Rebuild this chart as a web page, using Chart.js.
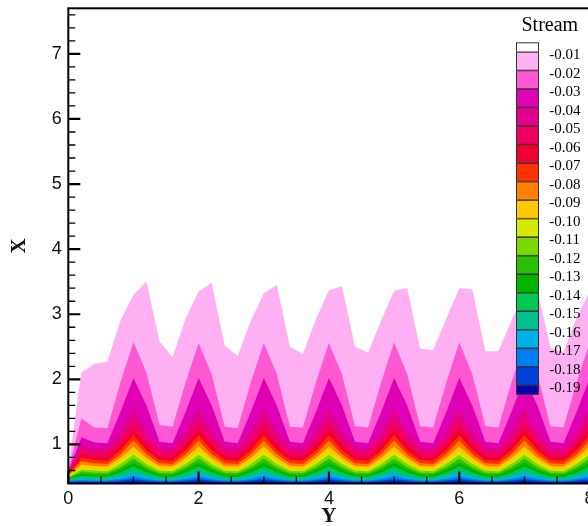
<!DOCTYPE html>
<html><head><meta charset="utf-8">
<script src="https://cdn.jsdelivr.net/npm/chart.js@4.4.1/dist/chart.umd.min.js"></script>
<style>html,body{margin:0;padding:0;background:#fff;overflow:hidden;width:588px;height:526px}canvas{display:block}</style>
</head><body>
<canvas id="c" width="610" height="526"></canvas>
<script>
// Y (horizontal axis) sample positions
const xs = [0,0.2,0.4,0.6,0.8,1,1.2,1.4,1.6,1.8,2,2.2,2.4,2.6,2.8,3,3.2,3.4,3.6,3.8,4,4.2,4.4,4.6,4.8,5,5.2,5.4,5.6,5.8,6,6.2,6.4,6.6,6.8,7,7.2,7.4,7.6,7.8,8];
const levels = ['-0.01','-0.02','-0.03','-0.04','-0.05','-0.06','-0.07','-0.08','-0.09','-0.10','-0.11','-0.12','-0.13','-0.14','-0.15','-0.16','-0.17','-0.18','-0.19'];
// contour heights (X) of each stream level
const c01 = [0.63,2.1,2.24,2.27,2.9, 3.3,3.5,2.58,2.34,2.93, 3.35,3.48,2.52,2.36,2.9, 3.32,3.45,2.5,2.39,2.92, 3.37,3.43,2.5,2.41,2.9, 3.36,3.4,2.47,2.45,2.93, 3.4,3.38,2.43,2.43,2.9, 3.33,3.36,2.48,2.42,2.95, 3.35];
const c02 = [0.61,1.4,1.26,1.25,1.95, 2.57,2.1,1.3,1.27,1.95, 2.56,2.08,1.27,1.25,1.95, 2.56,2.08,1.27,1.26,1.95, 2.56,2.08,1.28,1.26,1.95, 2.57,2.08,1.28,1.26,1.95, 2.57,2.08,1.28,1.26,1.95, 2.56,2.08,1.28,1.26,1.95, 2.56];
const c03 = [0.59,1.11,1.03,1.02,1.5, 2.02,1.6,1.04,1.02,1.5, 2.02,1.6,1.04,1.02,1.5, 2.02,1.6,1.04,1.02,1.5, 2.02,1.6,1.04,1.02,1.5, 2.02,1.6,1.04,1.02,1.5, 2.02,1.6,1.04,1.02,1.5, 2.02,1.6,1.04,1.02,1.5, 2.02];
const c04 = [0.57,1.0,0.96,0.95,1.21, 1.56,1.21,0.97,0.95,1.21, 1.56,1.21,0.97,0.95,1.21, 1.56,1.21,0.97,0.95,1.21, 1.56,1.21,0.97,0.95,1.21, 1.56,1.21,0.97,0.95,1.21, 1.56,1.21,0.97,0.95,1.21, 1.56,1.21,0.97,0.95,1.21, 1.56];
const c05 = [0.56,0.92,0.89,0.88,1.09, 1.38,1.09,0.9,0.88,1.09, 1.38,1.09,0.9,0.88,1.09, 1.38,1.09,0.9,0.88,1.09, 1.38,1.09,0.9,0.88,1.09, 1.38,1.09,0.9,0.88,1.09, 1.38,1.09,0.9,0.88,1.09, 1.38,1.09,0.9,0.88,1.09, 1.38];
const c06 = [0.55,0.85,0.82,0.81,1.0, 1.25,1.0,0.82,0.81,1.0, 1.25,1.0,0.82,0.81,1.0, 1.25,1.0,0.82,0.81,1.0, 1.25,1.0,0.82,0.81,1.0, 1.25,1.0,0.82,0.81,1.0, 1.25,1.0,0.82,0.81,1.0, 1.25,1.0,0.82,0.81,1.0, 1.25];
const c07 = [0.54,0.79,0.76,0.75,0.91, 1.14,0.91,0.76,0.75,0.91, 1.14,0.91,0.76,0.75,0.91, 1.14,0.91,0.76,0.75,0.91, 1.14,0.91,0.76,0.75,0.91, 1.14,0.91,0.76,0.75,0.91, 1.14,0.91,0.76,0.75,0.91, 1.14,0.91,0.76,0.75,0.91, 1.14];
const c08 = [0.53,0.74,0.71,0.7,0.85, 1.06,0.85,0.71,0.7,0.85, 1.06,0.85,0.71,0.7,0.85, 1.06,0.85,0.71,0.7,0.85, 1.06,0.85,0.71,0.7,0.85, 1.06,0.85,0.71,0.7,0.85, 1.06,0.85,0.71,0.7,0.85, 1.06,0.85,0.71,0.7,0.85, 1.06];
const c09 = [0.52,0.69,0.67,0.66,0.79, 0.97,0.79,0.67,0.66,0.79, 0.97,0.79,0.67,0.66,0.79, 0.97,0.79,0.67,0.66,0.79, 0.97,0.79,0.67,0.66,0.79, 0.97,0.79,0.67,0.66,0.79, 0.97,0.79,0.67,0.66,0.79, 0.97,0.79,0.67,0.66,0.79, 0.97];
const c10 = [0.51,0.65,0.63,0.62,0.74, 0.9,0.74,0.63,0.62,0.74, 0.9,0.74,0.63,0.62,0.74, 0.9,0.74,0.63,0.62,0.74, 0.9,0.74,0.63,0.62,0.74, 0.9,0.74,0.63,0.62,0.74, 0.9,0.74,0.63,0.62,0.74, 0.9,0.74,0.63,0.62,0.74, 0.9];
const c11 = [0.5,0.61,0.6,0.59,0.7, 0.84,0.7,0.6,0.59,0.7, 0.84,0.7,0.6,0.59,0.7, 0.84,0.7,0.6,0.59,0.7, 0.84,0.7,0.6,0.59,0.7, 0.84,0.7,0.6,0.59,0.7, 0.84,0.7,0.6,0.59,0.7, 0.84,0.7,0.6,0.59,0.7, 0.84];
const c12 = [0.49,0.58,0.565,0.56,0.65, 0.78,0.65,0.565,0.56,0.65, 0.78,0.65,0.565,0.56,0.65, 0.78,0.65,0.565,0.56,0.65, 0.78,0.65,0.565,0.56,0.65, 0.78,0.65,0.565,0.56,0.65, 0.78,0.65,0.565,0.56,0.65, 0.78,0.65,0.565,0.56,0.65, 0.78];
const c13 = [0.48,0.55,0.535,0.53,0.61, 0.72,0.61,0.535,0.53,0.61, 0.72,0.61,0.535,0.53,0.61, 0.72,0.61,0.535,0.53,0.61, 0.72,0.61,0.535,0.53,0.61, 0.72,0.61,0.535,0.53,0.61, 0.72,0.61,0.535,0.53,0.61, 0.72,0.61,0.535,0.53,0.61, 0.72];
const c14 = [0.47,0.52,0.51,0.505,0.57, 0.66,0.57,0.51,0.505,0.57, 0.66,0.57,0.51,0.505,0.57, 0.66,0.57,0.51,0.505,0.57, 0.66,0.57,0.51,0.505,0.57, 0.66,0.57,0.51,0.505,0.57, 0.66,0.57,0.51,0.505,0.57, 0.66,0.57,0.51,0.505,0.57, 0.66];
const c15 = [0.46,0.495,0.485,0.48,0.535, 0.61,0.535,0.485,0.48,0.535, 0.61,0.535,0.485,0.48,0.535, 0.61,0.535,0.485,0.48,0.535, 0.61,0.535,0.485,0.48,0.535, 0.61,0.535,0.485,0.48,0.535, 0.61,0.535,0.485,0.48,0.535, 0.61,0.535,0.485,0.48,0.535, 0.61];
const c16 = [0.45,0.47,0.463,0.46,0.5, 0.56,0.5,0.463,0.46,0.5, 0.56,0.5,0.463,0.46,0.5, 0.56,0.5,0.463,0.46,0.5, 0.56,0.5,0.463,0.46,0.5, 0.56,0.5,0.463,0.46,0.5, 0.56,0.5,0.463,0.46,0.5, 0.56,0.5,0.463,0.46,0.5, 0.56];
const c17 = [0.44,0.455,0.447,0.445,0.47, 0.51,0.47,0.447,0.445,0.47, 0.51,0.47,0.447,0.445,0.47, 0.51,0.47,0.447,0.445,0.47, 0.51,0.47,0.447,0.445,0.47, 0.51,0.47,0.447,0.445,0.47, 0.51,0.47,0.447,0.445,0.47, 0.51,0.47,0.447,0.445,0.47, 0.51];
const c18 = [0.43,0.435,0.431,0.43,0.447, 0.47,0.447,0.431,0.43,0.447, 0.47,0.447,0.431,0.43,0.447, 0.47,0.447,0.431,0.43,0.447, 0.47,0.447,0.431,0.43,0.447, 0.47,0.447,0.431,0.43,0.447, 0.47,0.447,0.431,0.43,0.447, 0.47,0.447,0.431,0.43,0.447, 0.47];
const c19 = [0.41,0.418,0.416,0.415,0.424, 0.435,0.424,0.416,0.415,0.424, 0.435,0.424,0.416,0.415,0.424, 0.435,0.424,0.416,0.415,0.424, 0.435,0.424,0.416,0.415,0.424, 0.435,0.424,0.416,0.415,0.424, 0.435,0.424,0.416,0.415,0.424, 0.435,0.424,0.416,0.415,0.424, 0.435];
const contours = [c01,c02,c03,c04,c05,c06,c07,c08,c09,c10,c11,c12,c13,c14,c15,c16,c17,c18,c19];
// band colour below each level
const bandColors = ['#FFB0F2','#FF58D2','#E000B4','#E2008C','#F00062','#F00030','#FF3000','#FF8000','#FFC800','#D8E800','#78D800','#28C000','#00B400','#00C850','#00C090','#00B0E8','#0080F0','#0040D8','#0000B0'];
const yTicks = [1,2,3,4,5,6,7];
const xTicks = [0,2,4,6,8];
const legendTitle = 'Stream';

const datasets = contours.map((c, i) => ({
  label: levels[i],
  data: c.map((v, j) => ({x: xs[j], y: v})),
  backgroundColor: bandColors[i],
  borderColor: 'rgba(0,0,0,0)',
  borderWidth: 0,
  pointRadius: 0,
  tension: 0,
  fill: 'start',
  order: contours.length - i
}));

const framePlugin = {
  id: 'frame',
  afterDatasetsDraw(chart) {
    const {ctx, chartArea: a, scales} = chart;
    const xS = scales.x, yS = scales.y;
    ctx.save();
    ctx.strokeStyle = '#000';
    ctx.lineCap = 'butt';
    ctx.lineWidth = 1.3;
    ctx.beginPath();
    for (let k = 3; k <= 38; k++) {
      const v = k / 5;
      if (Math.abs(v - Math.round(v)) < 1e-6) continue;
      const p = yS.getPixelForValue(v);
      ctx.moveTo(a.left, p); ctx.lineTo(a.left + 7, p);
    }
    for (let k = 1; k <= 16; k++) {
      if (k % 4 === 0) continue;
      const p = xS.getPixelForValue(k / 2);
      ctx.moveTo(p, a.bottom); ctx.lineTo(p, a.bottom - 7);
    }
    ctx.stroke();
    ctx.lineWidth = 2.2;
    ctx.beginPath();
    yTicks.forEach(v => { const p = yS.getPixelForValue(v); ctx.moveTo(a.left, p); ctx.lineTo(a.left + 12, p); });
    xTicks.forEach(v => { const p = xS.getPixelForValue(v); ctx.moveTo(p, a.bottom); ctx.lineTo(p, a.bottom - 12); });
    ctx.stroke();
    ctx.lineWidth = 2;
    ctx.strokeRect(a.left, a.top, a.right - a.left, a.bottom - a.top);
    ctx.restore();
  },
  afterDraw(chart) {
    const ctx = chart.ctx;
    ctx.save();
    const bx = 516, bw = 23, top = 42.3, b0 = 51.7, step = 18.52;
    ctx.font = '20px "Liberation Serif"';
    ctx.fillStyle = '#000';
    ctx.textBaseline = 'middle';
    ctx.textAlign = 'left';
    ctx.fillText(legendTitle, 521.5, 26);
    ctx.lineWidth = 1;
    ctx.strokeStyle = '#333';
    ctx.fillStyle = '#fff';
    ctx.fillRect(bx, top, bw, b0 - top);
    ctx.strokeRect(bx + 0.5, top + 0.5, bw - 1, b0 - top);
    for (let i = 0; i < bandColors.length; i++) {
      const y0 = b0 + i * step;
      const h = i < bandColors.length - 1 ? step : 9.3;
      ctx.fillStyle = bandColors[i];
      ctx.fillRect(bx, y0, bw, h);
      ctx.strokeRect(bx + 0.5, y0 + 0.5, bw - 1, h - 0.5);
    }
    ctx.fillStyle = '#000';
    ctx.font = '15px "Liberation Serif"';
    levels.forEach((t, i) => ctx.fillText(t, 549.3, b0 + i * step + 3.5));
    ctx.restore();
  }
};

new Chart(document.getElementById('c'), {
  type: 'line',
  data: {datasets},
  options: {
    responsive: false,
    animation: false,
    devicePixelRatio: 1,
    layout: {padding: {left: 0, right: 20.4, top: 8.3, bottom: 0}},
    plugins: {legend: {display: false}, tooltip: {enabled: false}},
    scales: {
      x: {
        type: 'linear', min: 0, max: 8,
        grid: {display: false, drawTicks: false},
        border: {display: false},
        afterBuildTicks: s => { s.ticks = xTicks.map(v => ({value: v})); },
        afterFit: s => { s.height = 42.5; s.paddingLeft = 0; s.paddingRight = 0; },
        ticks: {padding: 5, color: '#111', font: {family: '"Liberation Sans"', size: 18}},
        title: {display: true, text: 'Y', color: '#111', padding: {top: 0, bottom: -1.5},
                font: {family: '"Liberation Serif"', size: 21, weight: 'bold', lineHeight: 1}}
      },
      y: {
        type: 'linear', min: 0.4, max: 7.7,
        grid: {display: false, drawTicks: false},
        border: {display: false},
        afterBuildTicks: s => { s.ticks = yTicks.map(v => ({value: v})); },
        afterFit: s => { s.width = 68.3; s.paddingTop = 0; s.paddingBottom = 0; },
        ticks: {padding: 6.5, color: '#111', font: {family: '"Liberation Sans"', size: 18}},
        title: {display: true, text: 'X', color: '#111', padding: {top: 9.5, bottom: 0},
                font: {family: '"Liberation Serif"', size: 21, weight: 'bold', lineHeight: 1}}
      }
    }
  },
  plugins: [framePlugin]
});
</script>
</body></html>
